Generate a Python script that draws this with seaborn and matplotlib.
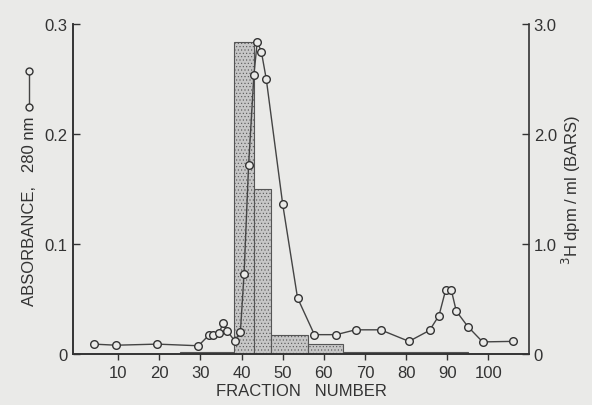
import matplotlib
matplotlib.use("Agg")
import matplotlib.pyplot as plt
from matplotlib.lines import Line2D
import seaborn as sns
import numpy as np
import pandas as pd

# absorbance at 280 nm (left axis, line with open circles)
fraction = [4, 9.5, 19.5, 29.5, 32, 33, 34.5, 35.5, 36.5, 38.3, 39.7, 40.6, 41.7,
            43, 43.8, 44.8, 46, 50, 53.6, 57.7, 63, 67.7, 73.8, 80.7, 85.7, 88,
            89.6, 91, 92.2, 95, 98.6, 106]
absorbance = [0.009, 0.008, 0.009, 0.0075, 0.017, 0.017, 0.019, 0.028, 0.021, 0.012,
              0.020, 0.073, 0.172, 0.254, 0.284, 0.275, 0.250, 0.136, 0.051, 0.0176,
              0.0176, 0.022, 0.022, 0.0115, 0.0215, 0.035, 0.058, 0.058, 0.039,
              0.025, 0.011, 0.0115]

# 3H dpm/ml pooled fractions (right axis, bars)
bar_edges = [25, 38.2, 43, 47.2, 56.2, 64.7, 95]
bar_dpm = [0.015, 2.84, 1.5, 0.17, 0.09, 0.02]

x_ticks = [10, 20, 30, 40, 50, 60, 70, 80, 90, 100]
left_ticks = [0, 0.1, 0.2, 0.3]
left_labels = ["0", "0.1", "0.2", "0.3"]
right_ticks = [0, 1, 2, 3]
right_labels = ["0", "1.0", "2.0", "3.0"]

sns.set_style("ticks")
plt.rcParams["font.family"] = ["Liberation Sans", "DejaVu Sans"]
plt.rcParams["hatch.color"] = "#8a8a8a"
plt.rcParams["hatch.linewidth"] = 0.4

bg = "#eaeae8"
ink = "#333333"

fig = plt.figure(figsize=(5.92, 4.06), dpi=100, facecolor=bg)
ax = fig.add_axes([0.1233, 0.1256, 0.7711, 0.8124])
ax2 = ax.twinx()
ax.set_zorder(ax2.get_zorder() + 1)
ax.patch.set_visible(False)
ax2.set_facecolor(bg)

edges = np.array(bar_edges)
ax2.bar(edges[:-1], bar_dpm, width=np.diff(edges), align="edge",
        color="#c6c6c6", edgecolor="#555555", linewidth=0.8, hatch=".....")

df = pd.DataFrame({"fraction": fraction, "absorbance": absorbance})
sns.lineplot(data=df, x="fraction", y="absorbance", ax=ax, color="#444444",
             linewidth=1.0, marker="o", markersize=5.5, markerfacecolor=bg,
             markeredgecolor="#333333", markeredgewidth=1.0)

ax.set_xlim(-1, 110)
ax.set_ylim(0, 0.3)
ax2.set_ylim(0, 3.0)

ax.set_xticks(x_ticks)
ax.set_xticklabels([str(t) for t in x_ticks], fontsize=12, color=ink)
ax.set_yticks(left_ticks)
ax.set_yticklabels(left_labels, fontsize=12, color=ink)
ax2.set_yticks(right_ticks)
ax2.set_yticklabels(right_labels, fontsize=12, color=ink)

ax.tick_params(axis="x", direction="out", length=4, width=1, color=ink, pad=4)
ax.tick_params(axis="y", direction="in", length=5, width=1, color=ink, pad=4)
ax2.tick_params(axis="y", direction="in", length=5, width=1, color=ink, pad=3)

for a in (ax, ax2):
    a.spines["top"].set_visible(False)
    for s in ("left", "right", "bottom"):
        a.spines[s].set_color(ink)
        a.spines[s].set_linewidth(1.2)
ax.spines["right"].set_visible(False)

ax.set_xlabel("FRACTION   NUMBER", fontsize=12, color=ink, labelpad=2)
ax.set_ylabel("")
ax2.set_ylabel("$^{3}$H dpm / ml (BARS)", fontsize=12, color=ink, labelpad=2)

fig.text(0.05, 0.48, "ABSORBANCE,   280 nm", rotation=90, fontsize=12,
         color=ink, ha="center", va="center")
key = Line2D([0.049, 0.049], [1 - 108 / 406, 1 - 72 / 406], transform=fig.transFigure,
             color="#444444", linewidth=1.0, marker="o", markersize=5,
             markerfacecolor=bg, markeredgecolor="#333333")
fig.add_artist(key)

fig.savefig("out.png", dpi=100, facecolor=bg)
